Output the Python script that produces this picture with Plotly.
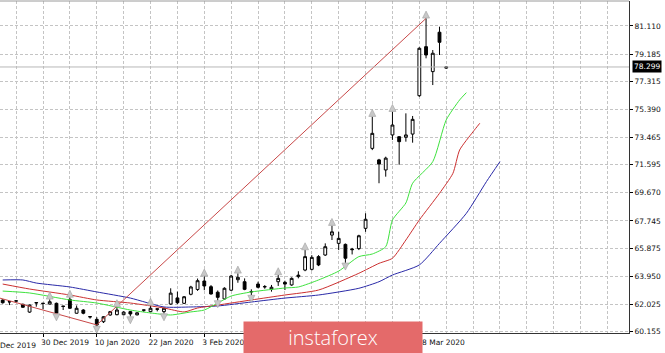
import plotly.graph_objects as go

# ---------------- data ----------------
opens = [62.32, 62.22, 62.25, 62.03, 61.50, 62.15, 62.11, 62.05, 62.10, 61.91,
         62.37, 61.42, 61.64, 61.19, 61.00, 60.84, 61.30, 61.32, 61.32, 61.53,
         61.31, 61.65, 61.53, 61.72, 61.53, 62.05, 62.47, 62.10, 62.72, 63.05,
         63.63, 63.24, 62.86, 62.40, 63.00, 63.72, 63.58, 62.91, 63.42, 63.25,
         63.06, 63.58, 63.54, 63.36, 63.93, 64.38, 64.43, 65.30, 65.41, 66.78,
         66.21, 66.14, 65.82, 65.85, 67.24, 72.72, 71.93, 71.24, 73.64, 73.52,
         73.48, 73.70, 76.33, 79.69, 77.98, 80.68, 78.22]
highs = [62.38, 62.23, 62.30, 62.08, 62.02, 62.16, 62.12, 62.37, 62.15, 61.92,
         62.50, 61.95, 61.70, 61.20, 61.15, 61.22, 61.58, 61.85, 61.56, 61.58,
         61.50, 61.66, 61.95, 61.73, 61.80, 63.13, 62.90, 62.60, 63.30, 63.80,
         63.95, 63.35, 62.98, 63.20, 64.05, 64.15, 63.81, 63.06, 63.58, 63.35,
         63.36, 64.04, 63.65, 63.88, 64.30, 65.75, 65.40, 65.40, 66.21, 67.42,
         67.00, 66.20, 65.90, 66.80, 68.27, 74.89, 72.00, 72.15, 75.23, 73.55,
         75.12, 74.94, 79.65, 81.63, 79.46, 81.06, 78.33]
lows = [62.08, 61.98, 62.22, 61.80, 61.45, 61.87, 61.69, 62.02, 61.40, 61.64,
        61.72, 61.40, 61.35, 61.05, 60.55, 60.75, 61.25, 61.28, 61.28, 61.20,
        61.27, 61.50, 61.50, 61.55, 61.40, 62.00, 62.05, 62.05, 62.65, 62.95,
        63.00, 62.70, 62.30, 62.35, 62.95, 63.51, 63.00, 62.67, 63.13, 63.10,
        62.90, 63.29, 63.01, 63.30, 63.81, 64.30, 64.35, 64.65, 65.35, 66.44,
        65.75, 64.88, 65.45, 65.75, 67.00, 72.60, 70.33, 70.78, 73.30, 71.60,
        73.18, 73.11, 76.25, 78.89, 77.06, 79.12, 78.18]
closes = [62.14, 62.20, 62.27, 61.83, 61.98, 62.13, 62.09, 62.21, 61.42, 61.89,
          61.76, 61.76, 61.42, 61.17, 60.61, 61.18, 61.53, 61.64, 61.50, 61.37,
          61.45, 61.63, 61.76, 61.70, 61.76, 62.80, 62.14, 62.55, 63.22, 63.65,
          63.29, 62.74, 62.51, 63.13, 63.97, 63.88, 63.06, 62.89, 63.20, 63.23,
          63.20, 63.81, 63.42, 63.81, 64.03, 65.30, 65.25, 64.73, 65.98, 67.00,
          66.55, 65.19, 65.78, 66.73, 67.86, 73.75, 71.65, 72.05, 74.32, 73.18,
          73.64, 74.71, 79.58, 79.12, 79.24, 79.99, 78.30]
bar_idx = list(range(len(opens)))

# Alligator lines (bar index, price)
jaw_idx = [0, 3, 5, 10, 14, 19, 24, 28, 32, 37, 42, 47, 53, 56, 58, 62, 65, 69, 72, 74]
jaw_val = [63.70, 63.70, 63.49, 63.22, 62.88, 62.46, 61.85, 61.85, 61.92, 62.19, 62.46,
           62.67, 63.13, 63.58, 64.04, 64.73, 66.21, 68.27, 70.45, 71.81]
teeth_idx = [0, 4, 10, 14, 19, 24, 27, 29, 32, 37, 42, 47, 53, 56, 58, 60, 62, 65, 67,
             68, 70, 71]
teeth_val = [63.42, 63.08, 62.67, 62.33, 62.12, 61.78, 61.51, 61.78, 61.98, 62.33, 62.67,
             63.01, 64.16, 64.84, 65.19, 66.44, 67.81, 69.64, 71.01, 72.61, 73.86, 74.44]
lips_idx = [0, 4, 10, 14, 19, 22, 25, 28, 30, 32, 34, 37, 42, 44, 47, 50, 53, 55, 57,
            58, 60, 61, 64, 66, 68, 69]
lips_val = [62.94, 62.81, 62.33, 62.12, 61.64, 61.44, 61.30, 61.51, 61.64, 62.12, 62.60,
            62.88, 63.15, 63.22, 63.70, 64.31, 65.30, 65.48, 65.98, 67.81, 68.98, 70.33,
            71.81, 74.67, 76.04, 76.54]

# Drawn trend line
trend_idx = [-1, 14, 63]
trend_val = [62.53, 60.62, 81.63]

# Fractals
frac_up_idx = [7, 10, 17, 22, 30, 35, 41, 45, 49, 55, 58, 63]
frac_dn_idx = [8, 14, 19, 24, 32, 37, 51]

# Axes
y_ticks = [60.155, 62.025, 63.950, 65.875, 67.745, 69.670, 71.595, 73.465, 75.390,
           77.315, 79.185, 81.110]
label_idx = [6, 14, 22, 30, 38, 46, 54, 62]
# labels at 38, 46 and 54 lie under the logo in the reference and are not visible
label_text = ["30 Dec 2019", "10 Jan 2020", "22 Jan 2020", "3 Feb 2020",
              "", "", "", "18 Mar 2020"]
first_label_idx = -2
first_label_text = "18 Dec 2019"
last_price = 78.299

X_MIN, X_MAX = -0.4, 93.2
Y_MIN, Y_MAX = 60.066, 82.82

# ---------------- figure ----------------
TICK_FONT = dict(family="DejaVu Sans", size=7.5, color="#111111")
GRID = "#c4c4c4"

fig = go.Figure()
fig.add_trace(go.Scatter(x=jaw_idx, y=jaw_val, mode="lines",
                         line=dict(color="#2a2aa8", width=1, shape="spline", smoothing=0.6),
                         hoverinfo="skip"))
fig.add_trace(go.Scatter(x=teeth_idx, y=teeth_val, mode="lines",
                         line=dict(color="#cc3030", width=1, shape="spline", smoothing=0.6),
                         hoverinfo="skip"))
fig.add_trace(go.Scatter(x=lips_idx, y=lips_val, mode="lines",
                         line=dict(color="#3ee23e", width=1, shape="spline", smoothing=0.6),
                         hoverinfo="skip"))
fig.add_trace(go.Scatter(x=trend_idx, y=trend_val, mode="lines",
                         line=dict(color="#c84848", width=1), hoverinfo="skip"))
fig.add_trace(go.Candlestick(
    x=bar_idx, open=opens, high=highs, low=lows, close=closes,
    increasing=dict(line=dict(color="black", width=1), fillcolor="white"),
    decreasing=dict(line=dict(color="black", width=1), fillcolor="black"),
    whiskerwidth=0, hoverinfo="skip"))
fig.add_trace(go.Scatter(
    x=frac_up_idx, y=[highs[i] + 0.5 for i in frac_up_idx], mode="markers",
    marker=dict(symbol="arrow-up", size=7, color="#c8c8c8",
                line=dict(color="#a0a0a0", width=0.6)), hoverinfo="skip"))
fig.add_trace(go.Scatter(
    x=frac_dn_idx, y=[lows[i] - 0.5 for i in frac_dn_idx], mode="markers",
    marker=dict(symbol="arrow-down", size=7, color="#c8c8c8",
                line=dict(color="#a0a0a0", width=0.6)), hoverinfo="skip"))

fig.update_layout(
    width=665, height=353, margin=dict(l=0, r=36, t=1, b=20),
    paper_bgcolor="white", plot_bgcolor="white", showlegend=False, boxgap=0.4,
)
fig.update_xaxes(
    range=[X_MIN, X_MAX], tickmode="array", tickvals=label_idx, ticktext=label_text,
    ticklabelposition="outside right", tickangle=0, ticklabelshift=-3,
    ticklabelstandoff=2, ticks="outside", ticklen=3,
    tickcolor="black", tickfont=TICK_FONT, showgrid=True, gridcolor=GRID,
    griddash="3px,2px", gridwidth=1,
    minor=dict(tickmode="linear", tick0=2, dtick=4, showgrid=True, gridcolor=GRID,
               griddash="3px,2px", gridwidth=1, ticks=""),
    showline=True, linecolor="#333333", linewidth=1, mirror=False,
    zeroline=False, rangeslider=dict(visible=False), fixedrange=True,
)
fig.update_yaxes(
    range=[Y_MIN, Y_MAX], side="right", tickmode="array", tickvals=y_ticks,
    ticktext=[f"{v:.3f}" for v in y_ticks], ticks="outside", ticklen=3,
    tickcolor="black", tickfont=TICK_FONT, showgrid=True, gridcolor=GRID,
    griddash="3px,2px", gridwidth=1, showline=True, linecolor="#333333",
    linewidth=1, zeroline=False, fixedrange=True,
)

# top frame edge (light grey in the reference)
fig.add_shape(type="line", xref="paper", x0=0, x1=1, yref="paper", y0=1, y1=1,
              line=dict(color="#9a9a9a", width=1))

# current price line
fig.add_shape(type="line", xref="paper", x0=0, x1=1, yref="y", y0=last_price,
              y1=last_price, line=dict(color="#b8b8b8", width=1))

# partially visible first date label
fig.add_annotation(
    xref="paper", x=(first_label_idx - X_MIN) / (X_MAX - X_MIN), xanchor="left",
    xshift=-3, yref="paper", y=0, yanchor="top", yshift=-6, text=first_label_text,
    showarrow=False, font=TICK_FONT)

# current price tag
fig.add_annotation(
    xref="paper", x=1, xanchor="left", xshift=3, yref="y", y=last_price,
    yanchor="middle", text=f"{last_price:.3f}", showarrow=False,
    font=dict(family="DejaVu Sans", size=7.5, color="white"), bgcolor="black",
    borderpad=1)

# logo
fig.add_annotation(
    xref="paper", x=0.5294, xanchor="center", yref="paper", y=-0.0136,
    yanchor="middle", text="instaforex", showarrow=False,
    font=dict(family="Open Sans", size=20, color="white", weight=300),
    bgcolor="#e46a6a", width=178, height=31, borderpad=0)

fig.write_html("out.html")
